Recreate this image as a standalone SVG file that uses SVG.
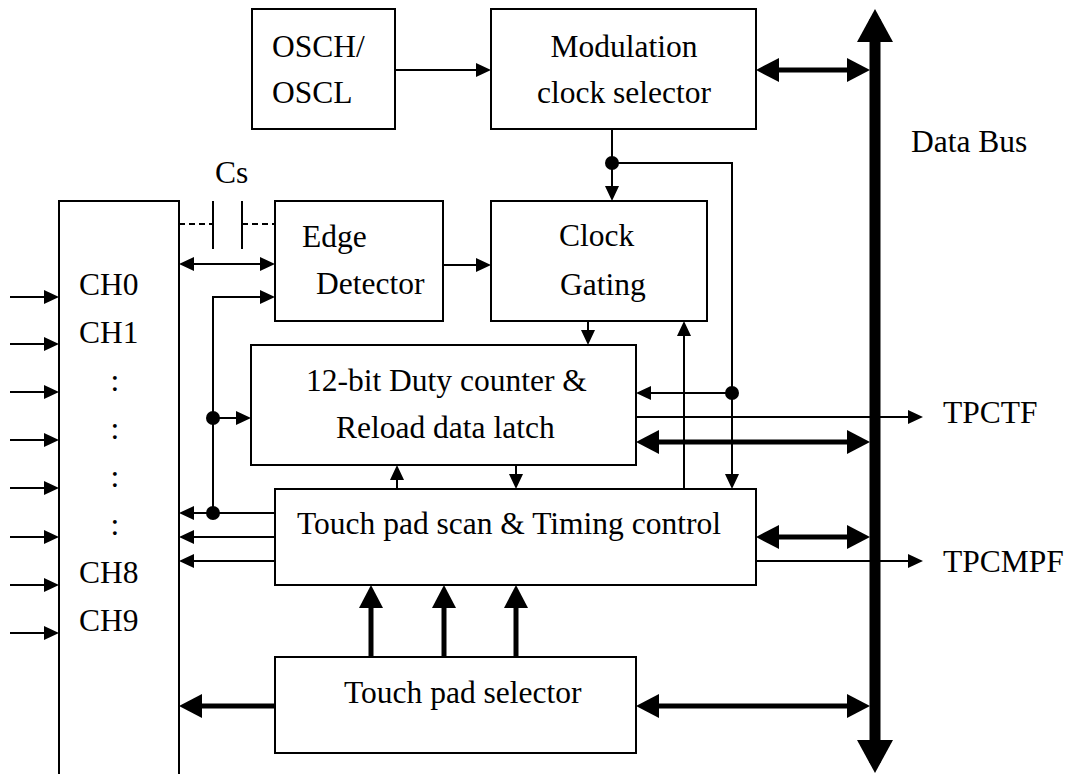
<svg xmlns="http://www.w3.org/2000/svg" width="1073" height="774" viewBox="0 0 1073 774">
<style>
.box{fill:#fff;stroke:#000;stroke-width:2}
text{font-family:"Liberation Serif","Times New Roman",serif;font-size:31.5px;fill:#000}
.m{text-anchor:middle}
.thin{fill:none;stroke:#000;stroke-width:2}
.thick{fill:none;stroke:#000;stroke-width:5}
.dash{fill:none;stroke:#000;stroke-width:2;stroke-dasharray:6,4}
.dot{fill:#000}
</style>
<defs>
<marker id="a" markerUnits="userSpaceOnUse" markerWidth="16" markerHeight="16" refX="11" refY="7" orient="auto-start-reverse"><path d="M0,0 L15,7 L0,14 z" fill="#000"/></marker>
<marker id="b" markerUnits="userSpaceOnUse" markerWidth="24" markerHeight="25" refX="15" refY="12" orient="auto-start-reverse"><path d="M0,0 L23,12 L0,24 z" fill="#000"/></marker>
<marker id="c" markerUnits="userSpaceOnUse" markerWidth="36" markerHeight="37" refX="23" refY="18" orient="auto-start-reverse"><path d="M0,0 L33,18 L0,36 z" fill="#000"/></marker>
</defs>
<rect width="1073" height="774" fill="#fff"/>

<g id="connectors">
<line class="thick" style="stroke-width:11" x1="875" y1="19" x2="875" y2="763" marker-start="url(#c)" marker-end="url(#c)"/>
<line class="thin" x1="395" y1="70" x2="487" y2="70" marker-end="url(#a)"/>
<line class="thin" x1="612" y1="129" x2="612" y2="197" marker-end="url(#a)"/>
<polyline class="thin" points="612,163 732,163 732,485" marker-end="url(#a)"/>
<line class="thin" x1="732" y1="393" x2="640" y2="393" marker-end="url(#a)"/>
<line class="thin" x1="443" y1="265" x2="487" y2="265" marker-end="url(#a)"/>
<line class="thin" x1="183" y1="264" x2="271" y2="264" marker-start="url(#a)" marker-end="url(#a)"/>
<polyline class="thin" points="213,513 213,297 271,297" marker-end="url(#a)"/>
<line class="thin" x1="213" y1="418" x2="247" y2="418" marker-end="url(#a)"/>
<line class="thin" x1="275" y1="513" x2="183" y2="513" marker-end="url(#a)"/>
<line class="thin" x1="275" y1="537" x2="183" y2="537" marker-end="url(#a)"/>
<line class="thin" x1="275" y1="561" x2="183" y2="561" marker-end="url(#a)"/>
<line class="thin" x1="588" y1="321" x2="588" y2="341" marker-end="url(#a)"/>
<line class="thin" x1="684" y1="489" x2="684" y2="325" marker-end="url(#a)"/>
<line class="thin" x1="636" y1="417" x2="919" y2="417" marker-end="url(#a)"/>
<line class="thin" x1="756" y1="561" x2="919" y2="561" marker-end="url(#a)"/>
<line class="thin" x1="397" y1="489" x2="397" y2="469" marker-end="url(#a)"/>
<line class="thin" x1="516" y1="465" x2="516" y2="485" marker-end="url(#a)"/>
<line class="thin" x1="10" y1="297" x2="55" y2="297" marker-end="url(#a)"/>
<line class="thin" x1="10" y1="344" x2="55" y2="344" marker-end="url(#a)"/>
<line class="thin" x1="10" y1="392" x2="55" y2="392" marker-end="url(#a)"/>
<line class="thin" x1="10" y1="440" x2="55" y2="440" marker-end="url(#a)"/>
<line class="thin" x1="10" y1="488" x2="55" y2="488" marker-end="url(#a)"/>
<line class="thin" x1="10" y1="537" x2="55" y2="537" marker-end="url(#a)"/>
<line class="thin" x1="10" y1="585" x2="55" y2="585" marker-end="url(#a)"/>
<line class="thin" x1="10" y1="633" x2="55" y2="633" marker-end="url(#a)"/>
<line class="thick" x1="764" y1="70" x2="862" y2="70" marker-start="url(#b)" marker-end="url(#b)"/>
<line class="thick" x1="644" y1="442" x2="862" y2="442" marker-start="url(#b)" marker-end="url(#b)"/>
<line class="thick" x1="764" y1="537" x2="862" y2="537" marker-start="url(#b)" marker-end="url(#b)"/>
<line class="thick" x1="644" y1="706" x2="862" y2="706" marker-start="url(#b)" marker-end="url(#b)"/>
<line class="thick" x1="275" y1="706" x2="187" y2="706" marker-end="url(#b)"/>
<line class="thick" x1="371" y1="657" x2="371" y2="593" marker-end="url(#b)"/>
<line class="thick" x1="444" y1="657" x2="444" y2="593" marker-end="url(#b)"/>
<line class="thick" x1="516" y1="657" x2="516" y2="593" marker-end="url(#b)"/>
<circle class="dot" cx="612" cy="163" r="7"/>
<circle class="dot" cx="732" cy="393" r="7"/>
<circle class="dot" cx="213" cy="418" r="7"/>
<circle class="dot" cx="213" cy="513" r="7"/>
</g>

<g id="cs">
<line class="dash" x1="179" y1="224" x2="213" y2="224"/>
<line class="dash" x1="242" y1="224" x2="275" y2="224"/>
<line class="thin" x1="213" y1="201" x2="213" y2="249"/>
<line class="thin" x1="242" y1="201" x2="242" y2="249"/>
<text x="215" y="183">Cs</text>
</g>

<g id="channels">
<rect class="box" x="59" y="201" width="120" height="600"/>
<text x="79" y="295">CH0</text>
<text x="79" y="343">CH1</text>
<text class="m" x="115" y="391">:</text>
<text class="m" x="115" y="439">:</text>
<text class="m" x="115" y="487">:</text>
<text class="m" x="115" y="535">:</text>
<text x="79" y="583">CH8</text>
<text x="79" y="631">CH9</text>
</g>

<g id="osc">
<rect class="box" x="252" y="9" width="143" height="120"/>
<text x="272" y="57">OSCH/</text>
<text x="272" y="103">OSCL</text>
</g>

<g id="modsel">
<rect class="box" x="491" y="9" width="265" height="120"/>
<text class="m" x="624" y="57">Modulation</text>
<text class="m" x="624" y="103">clock selector</text>
</g>

<g id="edge">
<rect class="box" x="275" y="201" width="168" height="120"/>
<text x="302" y="247">Edge</text>
<text x="316" y="294">Detector</text>
</g>

<g id="gating">
<rect class="box" x="491" y="201" width="216" height="120"/>
<text x="559" y="246">Clock</text>
<text x="560" y="295">Gating</text>
</g>

<g id="counter">
<rect class="box" x="251" y="345" width="385" height="120"/>
<text x="306" y="391">12-bit Duty counter &amp;</text>
<text x="336" y="438">Reload data latch</text>
</g>

<g id="scan">
<rect class="box" x="275" y="489" width="481" height="96"/>
<text x="297" y="534">Touch pad scan &amp; Timing control</text>
</g>

<g id="selector">
<rect class="box" x="275" y="657" width="361" height="96"/>
<text x="344" y="703">Touch pad selector</text>
</g>

<g id="labels">
<text x="911" y="152">Data Bus</text>
<text x="943" y="423">TPCTF</text>
<text x="943" y="572">TPCMPF</text>
</g>
</svg>
